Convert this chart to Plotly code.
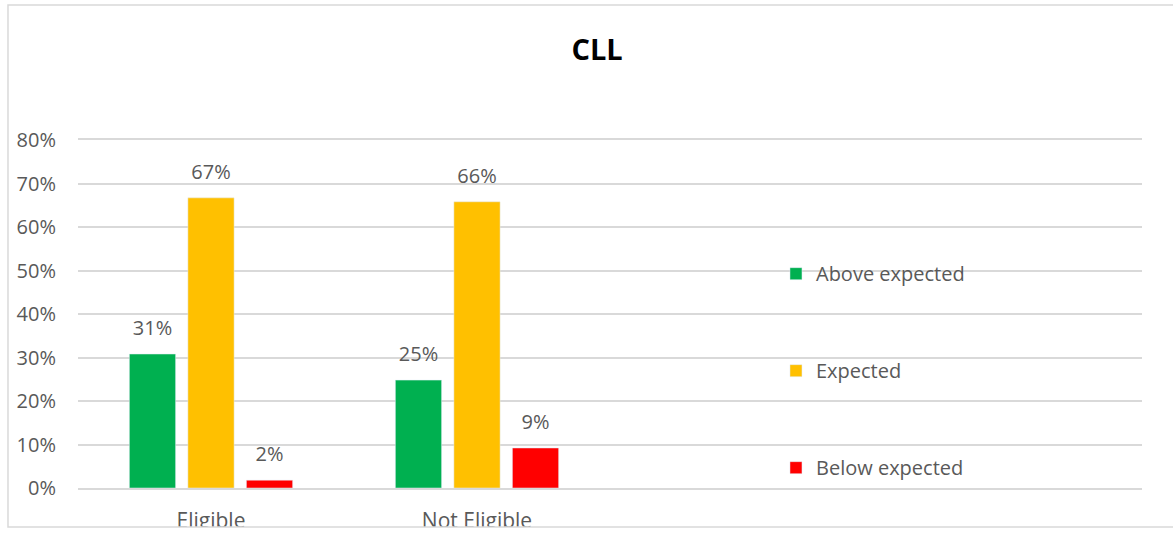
import plotly.graph_objects as go

categories = ["Eligible", "Not Eligible", "c3", "c4"]
tick_labels = ["Eligible", "Not Eligible", "", ""]
series_names = ["Above expected", "Expected", "Below expected"]
above_expected = [0.308, 0.248, None, None]
expected = [0.667, 0.658, None, None]
below_expected = [0.018, 0.092, None, None]
series_values = [above_expected, expected, below_expected]
colors = ["#00B050", "#FFC000", "#FF0000"]
y_ticks = [0, 0.1, 0.2, 0.3, 0.4, 0.5, 0.6, 0.7, 0.8]

FONT = "Open Sans"
GRAY = "#595959"


def label(v):
    if v is None:
        return ""
    # first line: the value; second (blank) line lifts the label off the bar
    return "<span style='font-size:20px'>%d%%</span><br>\u00a0" % round(v * 100)


fig = go.Figure()
for name, vals, col in zip(series_names, series_values, colors):
    fig.add_trace(go.Bar(
        name=name, x=categories, y=vals, marker_color=col,
        text=[label(v) for v in vals],
        textposition="outside", cliponaxis=False,
        textfont=dict(family=FONT, size=10, color=GRAY),
        legendgroup=name,
    ))

fig.update_layout(
    width=1173, height=534, autosize=False,
    margin=dict(l=78, r=31, t=140, b=46, autoexpand=False),
    paper_bgcolor="white", plot_bgcolor="white",
    barmode="group", bargap=0.34, bargroupgap=0.21,
    title=dict(text="<b>CLL</b>", x=0.509, xanchor="center", y=0.906, yanchor="middle",
               font=dict(family=FONT, size=29, color="black")),
    legend=dict(x=0.656, xanchor="left", y=0.672, yanchor="top",
                font=dict(family=FONT, size=20, color=GRAY),
                tracegroupgap=68, itemwidth=30, bgcolor="rgba(0,0,0,0)"),
    font=dict(family=FONT, color=GRAY),
)
fig.update_xaxes(type="category", categoryorder="array", categoryarray=categories,
                 tickvals=categories, ticktext=tick_labels, automargin=False,
                 range=[-0.5, 3.5], showgrid=False, showline=True, mirror=True,
                 linecolor="#D9D9D9", linewidth=1.5,
                 ticks="", tickfont=dict(family=FONT, size=21, color=GRAY), ticklabelstandoff=13)
fig.update_yaxes(range=[0, 0.8], tickvals=y_ticks, tickformat=".0%", automargin=False,
                 showgrid=True, gridcolor="#D9D9D9", gridwidth=1.5, zeroline=False,
                 showline=False, ticks="", tickfont=dict(family=FONT, size=20, color=GRAY),
                 ticklabelstandoff=21)

# clip below chart border and draw the chart border
fig.add_shape(type="rect", xref="paper", yref="paper", x0=-0.1, x1=1.1, y0=-0.3, y1=-0.112,
              fillcolor="white", line=dict(width=0), layer="above")
fig.add_shape(type="rect", xref="paper", yref="paper", x0=-0.0658, x1=1.1, y0=-0.112, y1=1.388,
              fillcolor="rgba(0,0,0,0)", line=dict(color="#D9D9D9", width=1.5), layer="above")

fig.write_html("out.html", config={"displayModeBar": False},
               post_script="document.body.style.margin='0';")
